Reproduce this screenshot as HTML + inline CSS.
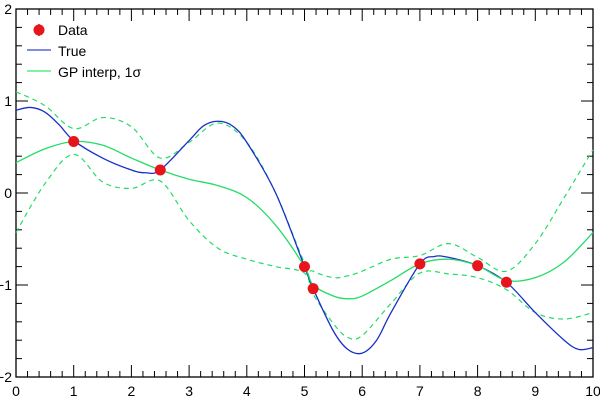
<!DOCTYPE html>
<html><head><meta charset="utf-8"><style>
body{margin:0;background:#fff;}
svg{display:block;font-family:"Liberation Sans",sans-serif;}
</style></head><body>
<svg id="chart" width="600" height="400">
</svg>
<script>
const dataX=[1,2.5,5,5.15,7,8,8.5];
const dataY=[0.56,0.25,-0.8,-1.04,-0.77,-0.79,-0.97];
const trueX=[0,0.25,0.5,0.75,1,1.5,2,2.25,2.5,3,3.25,3.5,3.75,4,4.5,5,5.15,5.5,5.75,6,6.25,6.5,7,7.25,7.5,8,8.5,9,9.5,9.75,10];
const trueY=[0.9,0.93,0.88,0.74,0.57,0.38,0.25,0.22,0.25,0.57,0.73,0.78,0.73,0.55,0.0,-0.8,-1.04,-1.5,-1.7,-1.74,-1.6,-1.3,-0.77,-0.69,-0.7,-0.79,-0.97,-1.3,-1.6,-1.7,-1.68];
const gpX=[0,0.5,1,1.5,2,2.5,3,3.5,4,4.5,5,5.15,5.5,5.75,6,6.5,7,7.5,8,8.5,9,9.5,10];
const gpMean=[0.33,0.48,0.56,0.52,0.38,0.25,0.15,0.08,-0.05,-0.35,-0.8,-1.0,-1.12,-1.15,-1.12,-0.95,-0.77,-0.72,-0.79,-0.95,-0.92,-0.75,-0.43];
const gpUpper=[1.1,0.95,0.7,0.82,0.72,0.38,0.55,0.76,0.55,0.0,-0.76,-0.85,-0.92,-0.9,-0.85,-0.72,-0.68,-0.55,-0.7,-0.85,-0.55,-0.05,0.47];
const gpLower=[-0.43,0.1,0.42,0.12,0.05,0.13,-0.3,-0.6,-0.72,-0.8,-0.87,-1.1,-1.42,-1.57,-1.55,-1.2,-0.87,-0.88,-0.92,-1.05,-1.3,-1.37,-1.3];
const xTicks=[0,1,2,3,4,5,6,7,8,9,10];
const yTicks=[-2,-1,0,1,2];

const L=16,R=593,T=9,B=377;
const sx=v=>L+(v-0)/(10-0)*(R-L);
const sy=v=>B-(v+2)/4*(B-T);
const svg=document.getElementById('chart');
const NS='http://www.w3.org/2000/svg';
function mk(tag,attrs,parent){const e=document.createElementNS(NS,tag);for(const k in attrs)e.setAttribute(k,attrs[k]);(parent||svg).appendChild(e);return e;}
function smooth(xs,ys){
  const p=xs.map((x,i)=>[sx(x),sy(ys[i])]);
  let d='M'+p[0][0].toFixed(2)+','+p[0][1].toFixed(2);
  for(let i=0;i<p.length-1;i++){
    const p0=p[i-1]||p[i],p1=p[i],p2=p[i+1],p3=p[i+2]||p[i+1];
    const c1=[p1[0]+(p2[0]-p0[0])/6,p1[1]+(p2[1]-p0[1])/6];
    const c2=[p2[0]-(p3[0]-p1[0])/6,p2[1]-(p3[1]-p1[1])/6];
    d+='C'+c1.map(v=>v.toFixed(2))+' '+c2.map(v=>v.toFixed(2))+' '+p2.map(v=>v.toFixed(2));
  }
  return d;
}
// frame
const frame=mk('rect',{x:L,y:T,width:R-L,height:B-T,fill:'none',stroke:'#000','stroke-width':1.3});


// ticks
for(let i=0;i<=50;i++){
  const v=i*0.2,x=sx(v),len=(i%5===0)?12:6;
  const t1=mk('line',{x1:x,y1:B,x2:x,y2:B-len,stroke:'#000','stroke-width':1});
  
  
  const t2=mk('line',{x1:x,y1:T,x2:x,y2:T+len,stroke:'#000','stroke-width':1});
  
  
}
for(let i=0;i<=20;i++){
  const v=-2+i*0.2,y=sy(v),len=(i%5===0)?12:6;
  const t1=mk('line',{x1:L,y1:y,x2:L+len,y2:y,stroke:'#000','stroke-width':1});
  
  
  const t2=mk('line',{x1:R,y1:y,x2:R-len,y2:y,stroke:'#000','stroke-width':1});
  
  
}
xTicks.forEach(v=>{
  const t=mk('text',{x:sx(v),y:396,'text-anchor':'middle','font-size':14});
  t.textContent=v;
  
  
});
yTicks.forEach(v=>{
  const t=mk('text',{x:12,y:sy(v)+5,'text-anchor':'end','font-size':14});
  t.textContent=v===-2?'−2':v===-1?'−1':v;
  
  
});
// series
const up=mk('path',{d:smooth(gpX,gpUpper),fill:'none',stroke:'#22dd66','stroke-width':1.2,'stroke-dasharray':'5,4'});


const lo=mk('path',{d:smooth(gpX,gpLower),fill:'none',stroke:'#22dd66','stroke-width':1.2,'stroke-dasharray':'5,4'});


const tr=mk('path',{d:smooth(trueX,trueY),fill:'none',stroke:'#1a2fc8','stroke-width':1.3});


const gm=mk('path',{d:smooth(gpX,gpMean),fill:'none',stroke:'#22dd66','stroke-width':1.3});


dataX.forEach((x,i)=>{
  const c=mk('circle',{cx:sx(x),cy:sy(dataY[i]),r:5.5,fill:'#e8141c'});
  
  
});
// legend
const g=mk('g',{});


const lc=mk('circle',{cx:39,cy:30,r:5.5,fill:'#e8141c'},g);


mk('line',{x1:39,y1:24,x2:39,y2:36,stroke:'#e8141c','stroke-width':1.5},g);
const ll1=mk('line',{x1:27,y1:50,x2:51,y2:50,stroke:'#5566dd','stroke-width':1.5},g);


const ll2=mk('line',{x1:27,y1:71,x2:51,y2:71,stroke:'#55ee88','stroke-width':1.5},g);


[['Data',35],['True',56],['GP interp, 1σ',77]].forEach(([s,y])=>{
  const t=mk('text',{x:58,y:y,'font-size':14},g);
  t.textContent=s;
  
  
});
</script>
</body></html>
